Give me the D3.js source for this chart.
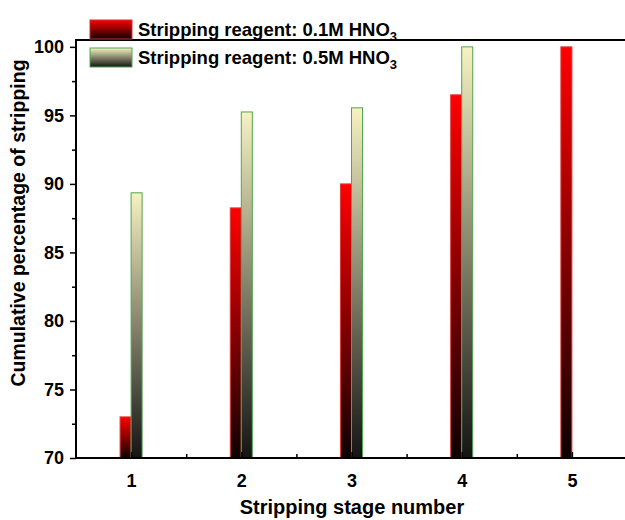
<!DOCTYPE html>
<html>
<head>
<meta charset="utf-8">
<script src="https://cdn.jsdelivr.net/npm/d3@7"></script>
<style>
  html, body { margin: 0; padding: 0; background: #fff; }
  svg { display: block; font-family: "Liberation Sans", Arial, sans-serif; }
</style>
</head>
<body>
<svg id="chart" width="625" height="520"></svg>
<script>
// Stripping stages and cumulative stripping percentage for each reagent
const stages = [1, 2, 3, 4, 5];
const hno3_01 = [73.0, 88.25, 90.0, 96.5, 100.0];
const hno3_05 = [89.35, 95.25, 95.55, 100.0, null];
const yTicks = [70, 75, 80, 85, 90, 95, 100];
const seriesNames = ["Stripping reagent: 0.1M HNO", "Stripping reagent: 0.5M HNO"];

const svg = d3.select("#chart");
const box = { left: 76, top: 40, right: 627, bottom: 458 };

const x = d3.scaleLinear().domain([0.5, 5.5]).range([box.left, box.right]);
const y = d3.scaleLinear().domain([70, 100.5]).range([box.bottom, box.top]);
const barW = 0.1; // bar width in stage units

// Vertical gradients: each bar fades to black at its base
const defs = svg.append("defs");
function grad(id, top, bottom) {
  const g = defs.append("linearGradient").attr("id", id)
    .attr("x1", 0).attr("y1", 0).attr("x2", 0).attr("y2", 1);
  g.append("stop").attr("offset", "0%").attr("stop-color", top);
  g.append("stop").attr("offset", "100%").attr("stop-color", bottom);
}
grad("gRed", "#ff0000", "#0d0000");
grad("gCream", "#f6f2c2", "#141414");

const series = [
  { values: hno3_01, fill: "url(#gRed)", stroke: "#e03a3a", offset: -barW },
  { values: hno3_05, fill: "url(#gCream)", stroke: "#4fa64f", offset: 0 }
];

// Bars
series.forEach(s => {
  svg.append("g").selectAll("rect")
    .data(stages.map((st, i) => ({ st, v: s.values[i] })).filter(d => d.v != null))
    .join("rect")
    .attr("x", d => x(d.st + s.offset))
    .attr("width", d => x(d.st + s.offset + barW) - x(d.st + s.offset))
    .attr("y", d => y(d.v))
    .attr("height", d => y(70) - y(d.v))
    .attr("fill", s.fill)
    .attr("stroke", s.stroke)
    .attr("stroke-width", 1);
});

// Plot-area border drawn as solid strips (left, top, bottom)
const border = svg.append("g").attr("fill", "#000");
border.append("rect").attr("x", box.left - 1).attr("y", box.top - 1)
  .attr("width", 2).attr("height", box.bottom - box.top + 2);
border.append("rect").attr("x", box.left - 1).attr("y", box.top - 1)
  .attr("width", box.right - box.left + 2).attr("height", 2);
border.append("rect").attr("x", box.left - 1).attr("y", box.bottom - 1)
  .attr("width", box.right - box.left + 2).attr("height", 2);

// Y axis: major ticks with labels, minor ticks at half steps
const yAxis = d3.axisLeft(y).tickValues(yTicks).tickSize(6).tickPadding(6).tickFormat(d3.format("d"));
const gy = svg.append("g").attr("transform", `translate(${box.left},0)`).call(yAxis);
gy.select(".domain").remove();
gy.selectAll("line").attr("stroke-width", 1.5);
gy.selectAll("text").attr("font-size", 18).attr("font-weight", "bold").attr("fill", "#000");
const yMinor = d3.axisLeft(y).tickValues(yTicks.slice(0, -1).map(v => v + 2.5)).tickSize(4).tickFormat("");
const gym = svg.append("g").attr("transform", `translate(${box.left},0)`).call(yMinor);
gym.select(".domain").remove();
gym.selectAll("line").attr("stroke-width", 1.5);

// X axis: labels below, ticks pointing inward
const xAxis = d3.axisBottom(x).tickValues(stages).tickSize(-6).tickPadding(16).tickFormat(d3.format("d"));
const gx = svg.append("g").attr("transform", `translate(0,${box.bottom})`).call(xAxis);
gx.select(".domain").remove();
gx.selectAll("line").attr("stroke-width", 1.5);
gx.selectAll("text").attr("font-size", 18).attr("font-weight", "bold").attr("fill", "#000");
const xMinor = d3.axisBottom(x).tickValues([1.5, 2.5, 3.5, 4.5]).tickSize(-4).tickFormat("");
const gxm = svg.append("g").attr("transform", `translate(0,${box.bottom})`).call(xMinor);
gxm.select(".domain").remove();
gxm.selectAll("line").attr("stroke-width", 1.5);

// Axis titles
svg.append("text")
  .attr("x", 352).attr("y", 514)
  .attr("text-anchor", "middle")
  .attr("font-size", 20).attr("font-weight", "bold")
  .text("Stripping stage number");
svg.append("text")
  .attr("transform", "translate(25,223) rotate(-90)")
  .attr("text-anchor", "middle")
  .attr("font-size", 19.5).attr("font-weight", "bold")
  .text("Cumulative percentage of stripping");

// Legend
const legend = svg.append("g");
[{ fill: "url(#gRed)", stroke: "#c83030" }, { fill: "url(#gCream)", stroke: "#4fa64f" }].forEach((l, i) => {
  const yy = 20 + i * 28;
  legend.append("rect")
    .attr("x", 90).attr("y", yy).attr("width", 42).attr("height", 19)
    .attr("fill", l.fill).attr("stroke", l.stroke).attr("stroke-width", 1);
  const t = legend.append("text")
    .attr("x", 138).attr("y", yy + 16)
    .attr("font-size", 18.5).attr("font-weight", "bold");
  t.append("tspan").text(seriesNames[i]);
  t.append("tspan").attr("dy", 5).attr("font-size", 13).text("3");
});
</script>
</body>
</html>
